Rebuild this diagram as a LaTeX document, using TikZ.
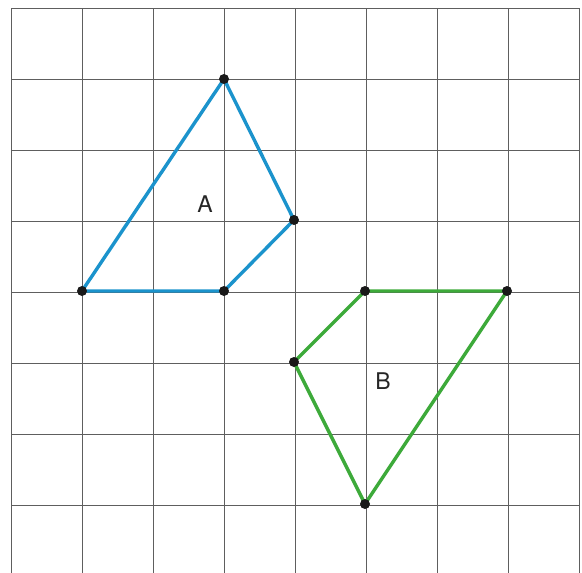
\documentclass[tikz,border=0pt]{standalone}
\usepackage{fontspec}
\setmainfont{TeX Gyre Heros}
\definecolor{gridc}{HTML}{5E5E5E}
\definecolor{blueA}{HTML}{1B93CC}
\definecolor{greenB}{HTML}{3DAA3A}
\begin{document}
\begin{tikzpicture}[x=1pt,y=-1pt,
  gridline/.style={draw=gridc,line width=1pt},
  tri/.style={line width=3.4pt,line join=round},
  vtx/.style={circle,fill=black!90,inner sep=0pt,minimum size=10pt},
  lbl/.style={font=\fontsize{23}{25}\selectfont,text=black!85,inner sep=0pt}]
\useasboundingbox (0,0) rectangle (582,573);
\foreach \i in {0,...,8} {
  \draw[gridline] (11+71*\i,8) -- (11+71*\i,573);
}
\foreach \j in {0,...,7} {
  \draw[gridline] (11,8+71*\j) -- (578.5,8+71*\j);
}
% triangle A
\coordinate (a1) at (224,79);
\coordinate (a2) at (294,220);
\coordinate (a3) at (224,291);
\coordinate (a4) at (82,291);
\draw[tri,blueA] (a1) -- (a2) -- (a3) -- (a4) -- cycle;
% triangle B
\coordinate (b1) at (294,362);
\coordinate (b2) at (365,291);
\coordinate (b3) at (507,291);
\coordinate (b4) at (365,504);
\draw[tri,greenB] (b1) -- (b2) -- (b3) -- (b4) -- cycle;
\foreach \p in {a1,a2,a3,a4,b1,b2,b3,b4} {
  \node[vtx] at (\p) {};
}
\node[lbl] (labA) at (205,204) {A};
\node[lbl] (labB) at (383,381) {B};
\end{tikzpicture}
\end{document}
